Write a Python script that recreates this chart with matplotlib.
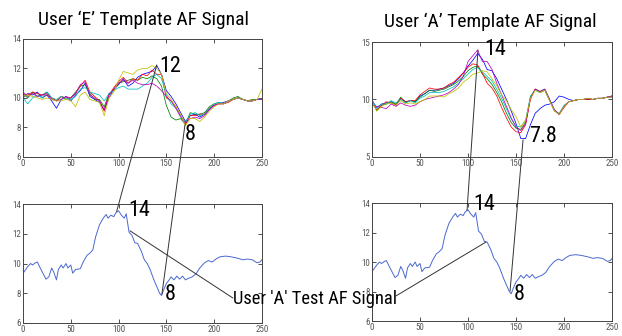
import numpy as np
import matplotlib
matplotlib.use('Agg')
from matplotlib import pyplot as plt
from matplotlib.patches import ConnectionPatch
from matplotlib import font_manager

# template samples every 5 units
x_tpl = np.arange(0, 251, 5)

tl_blue = [10.0, 10.3, 10.2, 10.4, 10.0, 10.2, 9.8, 9.3, 9.9, 10.1,
           9.8, 10.2, 10.5, 11.0, 10.1, 9.9, 9.7, 9.2, 10.0, 10.6,
           10.9, 11.3, 10.8, 11.0, 11.4, 11.6, 11.7, 11.8, 12.2, 11.6,
           10.5, 10.1, 9.6, 9.0, 8.4, 8.8, 8.9, 8.7, 8.9, 9.2,
           9.5, 9.6, 9.7, 9.8, 9.9, 10.0, 9.9, 9.8, 9.8, 9.9,
           9.9]
tl_green = [10.3, 10.0, 10.4, 10.1, 10.2, 10.4, 10.0, 9.8, 10.1, 9.9,
            10.0, 10.4, 10.8, 10.9, 10.3, 9.9, 9.9, 9.4, 10.3, 10.5,
            11.0, 11.1, 11.2, 11.3, 11.2, 11.4, 11.3, 11.5, 11.3, 10.8,
            9.5, 8.7, 8.5, 8.6, 8.2, 9.0, 8.9, 8.9, 9.0, 9.4,
            9.6, 9.7, 9.6, 9.8, 10.0, 10.1, 9.9, 9.8, 9.9, 9.9,
            9.9]
tl_red = [10.2, 10.2, 10.4, 10.3, 10.2, 10.2, 10.0, 9.8, 10.1, 10.0,
          10.0, 10.3, 10.8, 11.2, 10.4, 10.1, 9.8, 9.1, 10.2, 10.7,
          11.1, 11.4, 11.0, 11.3, 11.2, 11.6, 11.5, 11.9, 11.6, 11.6,
          10.0, 9.8, 9.4, 8.8, 8.2, 8.8, 8.8, 8.9, 8.9, 9.3,
          9.5, 9.6, 9.6, 9.7, 9.9, 10.0, 9.9, 9.8, 9.8, 9.9,
          9.9]
tl_cyan = [10.0, 9.6, 10.0, 10.2, 10.0, 10.4, 10.0, 9.9, 10.1, 10.0,
           9.9, 10.1, 10.6, 10.7, 10.4, 10.3, 10.2, 9.8, 10.3, 10.5,
           10.7, 10.8, 10.6, 10.6, 10.6, 10.8, 11.0, 11.4, 11.6, 11.3,
           10.2, 9.6, 9.3, 8.8, 8.3, 8.9, 9.0, 8.8, 8.9, 9.3,
           9.6, 9.7, 9.6, 9.8, 9.9, 10.0, 9.9, 9.8, 9.8, 9.9,
           9.9]
tl_magenta = [10.4, 10.1, 10.3, 10.1, 10.2, 10.3, 9.9, 9.8, 9.9, 10.1,
              10.0, 10.3, 10.9, 11.1, 10.2, 10.0, 9.8, 9.2, 10.2, 10.6,
              11.0, 11.2, 11.0, 11.2, 11.0, 10.9, 10.9, 11.0, 10.8, 10.5,
              10.1, 9.8, 9.3, 8.7, 8.3, 8.6, 8.7, 8.6, 8.8, 9.2,
              9.5, 9.6, 9.6, 9.8, 9.9, 10.0, 9.9, 9.8, 9.8, 9.9,
              9.9]
tl_yellow = [10.1, 10.2, 10.1, 10.0, 9.9, 10.0, 9.9, 9.8, 9.8, 9.9,
             9.8, 9.4, 10.2, 10.4, 9.9, 9.8, 9.7, 8.8, 10.0, 10.4,
             11.2, 11.8, 11.7, 11.6, 11.9, 12.0, 12.0, 12.2, 12.0, 11.6,
             10.3, 9.9, 9.4, 8.9, 8.1, 8.6, 8.6, 8.4, 8.7, 9.1,
             9.4, 9.6, 9.6, 9.8, 9.9, 10.0, 9.9, 9.8, 9.8, 9.9,
             10.6]

tr_blue = [9.9, 9.3, 9.6, 9.7, 9.8, 9.5, 10.1, 9.8, 9.9, 9.8,
           10.3, 10.5, 10.8, 10.8, 10.9, 11.0, 11.2, 11.4, 11.8, 12.3,
           12.9, 13.4, 14.0, 13.5, 12.6, 12.5, 11.8, 10.9, 10.0, 9.0,
           7.9, 6.6, 6.6, 7.8, 8.8, 9.2, 9.5, 9.6, 9.8, 10.3,
           10.2, 10.0, 9.9, 10.0, 10.0, 10.0, 10.0, 10.1, 10.1, 10.2,
           10.2]
tr_green = [9.9, 9.0, 9.5, 9.6, 9.8, 9.6, 10.2, 9.7, 9.9, 9.8,
            10.2, 10.5, 10.8, 10.7, 10.8, 10.9, 11.1, 11.3, 11.6, 12.0,
            12.5, 12.8, 12.9, 12.2, 11.8, 11.3, 10.6, 9.8, 8.8, 8.0,
            7.5, 7.4, 8.0, 10.2, 10.9, 10.7, 10.9, 10.0, 9.1, 8.7,
            9.4, 9.8, 9.9, 10.0, 10.0, 10.1, 10.0, 10.1, 10.1, 10.2,
            10.3]
tr_red = [9.7, 9.1, 9.5, 9.8, 9.7, 9.5, 10.1, 9.8, 9.9, 9.9,
          10.4, 10.7, 11.0, 10.9, 10.9, 11.0, 11.3, 11.5, 11.9, 12.3,
          12.8, 13.1, 13.0, 12.3, 11.4, 11.0, 10.3, 9.3, 8.4, 7.6,
          7.2, 7.1, 7.8, 10.0, 10.9, 10.6, 10.8, 9.9, 9.0, 8.7,
          9.3, 9.8, 9.9, 10.0, 10.0, 10.0, 10.0, 10.1, 10.1, 10.2,
          10.3]
tr_cyan = [10.0, 9.2, 9.6, 9.6, 9.9, 9.7, 10.0, 9.7, 9.9, 9.7,
           10.1, 10.3, 10.6, 10.6, 10.6, 10.7, 10.9, 11.1, 11.4, 11.8,
           12.2, 12.6, 12.8, 12.4, 12.0, 11.6, 10.9, 10.1, 9.2, 8.3,
           7.7, 7.6, 8.2, 10.3, 10.8, 10.6, 10.8, 9.9, 9.0, 8.8,
           9.5, 9.8, 9.9, 10.0, 10.0, 10.1, 10.0, 10.1, 10.1, 10.2,
           10.2]
tr_magenta = [9.5, 9.4, 9.3, 9.2, 9.6, 9.4, 9.7, 9.5, 9.4, 9.5,
              9.8, 10.0, 10.1, 10.2, 10.3, 10.4, 10.6, 10.9, 11.3, 12.0,
              13.3, 13.8, 14.3, 13.3, 13.3, 12.6, 11.4, 10.4, 9.4, 8.4,
              7.6, 7.3, 7.9, 10.1, 10.9, 10.7, 10.9, 10.0, 9.1, 8.7,
              9.4, 9.8, 9.9, 10.0, 10.0, 10.1, 10.0, 10.1, 10.1, 10.2,
              10.3]
tr_yellow = [9.8, 9.0, 9.4, 9.6, 9.7, 9.5, 9.9, 9.6, 9.7, 9.6,
             9.8, 10.0, 10.3, 10.3, 10.3, 10.2, 10.5, 10.7, 11.0, 11.5,
             11.8, 12.2, 12.3, 12.5, 12.4, 11.8, 11.2, 10.4, 9.9, 9.1,
             8.5, 7.6, 8.2, 10.1, 10.8, 10.6, 10.8, 9.9, 9.0, 8.7,
             9.4, 9.8, 9.9, 10.0, 10.0, 10.1, 10.0, 10.1, 10.1, 10.2,
             10.2]

# user 'A' test signal
x_test = [0, 5, 8, 10, 13, 15, 18, 22, 24, 27, 30, 32, 35, 37, 40, 42, 45, 47,
          50, 52, 55, 60, 63, 67, 70, 73, 76, 80, 84, 87, 89, 92, 95, 97, 100,
          103, 106, 108, 111, 114, 117, 120, 124, 127, 130, 133, 137, 140, 143,
          145, 147, 150, 153, 155, 158, 161, 164, 167, 170, 173, 177, 181, 185,
          190, 194, 198, 202, 206, 212, 218, 225, 230, 235, 240, 245, 248, 250]
y_test = [9.34, 9.8, 10.0, 9.9, 10.05, 10.1, 9.7, 9.2, 8.95, 9.1, 9.7, 9.45,
          8.9, 9.6, 9.9, 9.7, 10.0, 9.7, 9.9, 9.35, 9.6, 9.65, 10.1, 10.55,
          10.7, 10.9, 11.8, 12.6, 13.05, 13.3, 13.05, 13.25, 13.15, 13.4, 13.55,
          13.25, 13.05, 13.35, 12.1, 11.9, 11.4, 11.35, 10.8, 10.25, 10.0, 9.6,
          8.9, 8.45, 8.0, 7.85, 8.2, 8.65, 8.9, 9.1, 8.9, 9.15, 8.95, 9.15,
          8.9, 9.0, 9.1, 9.3, 9.7, 10.05, 10.2, 10.1, 10.3, 10.45, 10.5, 10.45,
          10.35, 10.25, 10.3, 10.25, 10.05, 10.1, 10.25]

x_ticks = [0, 50, 100, 150, 200, 250]
y_ticks_e = [6, 8, 10, 12, 14]
y_ticks_a = [5, 10, 15]

# MATLAB-ish line colours
tpl_colors = ['#0000ff', '#008000', '#ff0000', '#00bfbf', '#bf00bf', '#bfbf00']
test_color = '#4a68d0'

names = set(f.name for f in font_manager.fontManager.ttflist)
FONT = 'Roboto Condensed' if 'Roboto Condensed' in names else 'Liberation Sans'
plt.rcParams['font.family'] = [FONT, 'DejaVu Sans']


def setup_axes(ax, yticks):
    ax.set_xlim(0, 250)
    ax.set_ylim(yticks[0], yticks[-1])
    ax.set_xticks(x_ticks)
    ax.set_yticks(yticks)
    ax.tick_params(direction='in', length=3, width=0.6, labelsize=6.5,
                   colors='#333333', labelcolor='#555555', pad=1.5,
                   top=True, right=True)
    for s in ax.spines.values():
        s.set_linewidth(0.7)
        s.set_color('#444444')


fig = plt.figure(figsize=(6.22, 3.36), dpi=100)
ax_tl = fig.add_axes([0.037, 0.533, 0.384, 0.351])
ax_tr = fig.add_axes([0.598, 0.533, 0.386, 0.342])
ax_bl = fig.add_axes([0.037, 0.0387, 0.384, 0.354])
ax_br = fig.add_axes([0.598, 0.0446, 0.386, 0.351])
ax_bl.set_zorder(2)  # its label runs over the right panel

for ys, c in zip([tl_blue, tl_green, tl_red, tl_cyan, tl_magenta, tl_yellow], tpl_colors):
    ax_tl.plot(x_tpl, ys, color=c, lw=0.55)
for ys, c in zip([tr_blue, tr_green, tr_red, tr_cyan, tr_magenta, tr_yellow], tpl_colors):
    ax_tr.plot(x_tpl, ys, color=c, lw=0.55)
ax_bl.plot(x_test, y_test, color=test_color, lw=0.7)
ax_br.plot(x_test, y_test, color=test_color, lw=0.7)

setup_axes(ax_tl, y_ticks_e)
setup_axes(ax_tr, y_ticks_a)
setup_axes(ax_bl, y_ticks_e)
setup_axes(ax_br, y_ticks_e)

fig.text(0.23, 0.94, 'User \u2018E\u2019 Template AF Signal', ha='center', va='center', fontsize=14)
fig.text(0.788, 0.935, 'User \u2018A\u2019 Template AF Signal', ha='center', va='center', fontsize=14)

big = dict(fontsize=16, ha='left', va='baseline', clip_on=False, zorder=5)
ax_tl.text(143, 11.76, '12', **big)
ax_tl.text(169.5, 7.15, '8', **big)
ax_tr.text(116.5, 13.87, '14', **big)
ax_tr.text(163.5, 6.3, '7.8', **big)
ax_bl.text(110, 13.19, '14', **big)
ax_bl.text(148.5, 7.55, '8', **big)
ax_br.text(106, 13.53, '14', **big)
ax_br.text(148, 7.42, '8', **big)
ax_bl.text(219.7, 7.25, "User 'A' Test AF Signal", fontsize=13.3, ha='left',
           va='baseline', clip_on=False, zorder=5)

# connector lines between the panels
links = [
    (ax_tl, (140, 12.24), ax_bl, (98, 13.5)),
    (ax_tl, (169.5, 8.17), ax_bl, (145.4, 7.95)),
    (ax_bl, (112, 12.2), ax_bl, (219.7, 7.68)),
    (ax_br, (25, 7.7), ax_br, (118.8, 11.36)),
    (ax_tr, (110.4, 14.3), ax_br, (99, 13.5)),
    (ax_tr, (157.3, 6.48), ax_br, (143.8, 8.03)),
]
for a1, p1, a2, p2 in links:
    con = ConnectionPatch(xyA=p1, coordsA=a1.transData, xyB=p2, coordsB=a2.transData,
                          color='#333333', lw=0.7, zorder=6)
    fig.add_artist(con)

fig.savefig('out.png', dpi=100)
